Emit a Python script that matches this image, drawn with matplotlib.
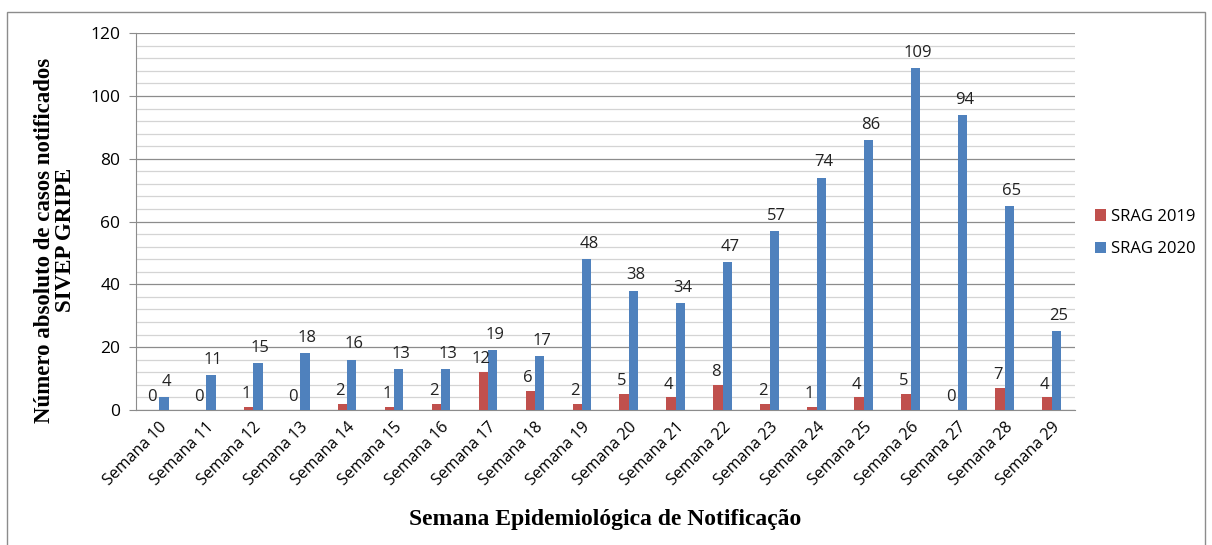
import numpy as np
import matplotlib.pyplot as plt
from matplotlib.patches import Rectangle
from matplotlib.ticker import MultipleLocator

semanas = ["Semana %d" % s for s in range(10, 30)]
srag_2019 = [0, 0, 1, 0, 2, 1, 2, 12, 6, 2, 5, 4, 8, 2, 1, 4, 5, 0, 7, 4]
srag_2020 = [4, 11, 15, 18, 16, 13, 13, 19, 17, 48, 38, 34, 47, 57, 74, 86, 109, 94, 65, 25]

red = "#c0504d"
blue = "#4f81bd"
tick_font = "Open Sans"
serif = "Liberation Serif"

fig = plt.figure(figsize=(12.12, 5.45), dpi=100)
ax = fig.add_axes([0.112, 0.248, 0.775, 0.691])

# outer frame of the chart
fig.patches.append(Rectangle((0.006, -0.01), 0.988, 0.988, transform=fig.transFigure,
                             fill=False, edgecolor="#8c8c8c", linewidth=1.0))

x = np.arange(len(semanas))
w = 0.2
ax.bar(x - w / 2, srag_2019, w, color=red, label="SRAG 2019", zorder=3)
ax.bar(x + w / 2, srag_2020, w, color=blue, label="SRAG 2020", zorder=3)

for xi, v in zip(x, srag_2019):
    ax.text(xi - w / 2 - 0.05, v + 1.5, str(v), ha="center", va="bottom",
            fontsize=12, family=tick_font, color="#222222")
for xi, v in zip(x, srag_2020):
    ax.text(xi + w / 2 + 0.05, v + 2.3, str(v), ha="center", va="bottom",
            fontsize=12, family=tick_font, color="#222222")

ax.set_xlim(-0.5, len(semanas) - 0.5)
ax.set_ylim(0, 120)
ax.yaxis.set_major_locator(MultipleLocator(20))
ax.yaxis.set_minor_locator(MultipleLocator(4))
ax.grid(axis="y", which="major", color="#8c8c8c", linewidth=0.9, zorder=0)
ax.grid(axis="y", which="minor", color="#d4d4d4", linewidth=0.9, zorder=0)
ax.set_axisbelow(True)

for s in ["top", "right"]:
    ax.spines[s].set_visible(False)
ax.spines["left"].set_color("#8c8c8c")
ax.spines["bottom"].set_color("#8c8c8c")

ax.set_xticks(x)
ax.set_xticklabels(semanas, rotation=45, ha="right", rotation_mode="anchor",
                   fontsize=11.5, family=tick_font)
ax.tick_params(axis="x", length=0, pad=7)
ax.tick_params(axis="y", which="major", length=5, color="#8c8c8c", labelsize=12.5, pad=6)
ax.tick_params(axis="y", which="minor", length=0)
for lbl in ax.get_yticklabels():
    lbl.set_family(tick_font)

ax.set_ylabel("Número absoluto de casos notificados\nSIVEP GRIPE", family=serif,
              fontweight="bold", fontsize=16.5, linespacing=1.0)
ax.yaxis.set_label_coords(-0.064, 0.45)
ax.set_xlabel("Semana Epidemiológica de Notificação", family=serif,
              fontweight="bold", fontsize=17, labelpad=14)

leg = ax.legend(loc="center left", bbox_to_anchor=(1.005, 0.47), frameon=False,
                prop={"family": tick_font, "size": 12}, handlelength=0.7,
                handleheight=0.7, handletextpad=0.3, labelspacing=1.0)

fig.savefig("out.png", dpi=100)
